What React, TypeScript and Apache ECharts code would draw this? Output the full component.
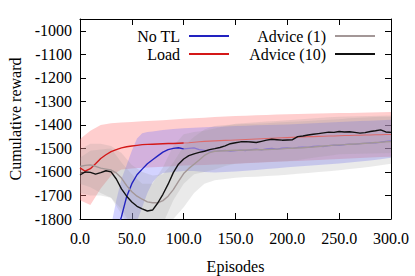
import React, { useEffect, useRef } from "react";
import * as echarts from "echarts";

// ---------- data ----------
const episodes5 = [0,5,10,15,20,25,30,35,40,45,50,55,60,65,70,75,80,85,90,95,100,105,110,115,120,125,130,135,140,145,150,155,160,165,170,175,180,185,190,195,200,205,210,215,220,225,230,235,240,245,250,255,260,265,270,275,280,285,290,295,300];

const loadMean = [-1583,-1597,-1586,-1565,-1543,-1527,-1514,-1505,-1498,-1493,-1490,-1487,-1484,-1483,-1482,-1481,-1480,-1479,-1479,-1478,-1477,-1476,-1474,-1472,-1470,-1469,-1468,-1467,-1466,-1465,-1464,-1463,-1462,-1461,-1460,-1459,-1458,-1457,-1456,-1455,-1454,-1453,-1452,-1451,-1450,-1450,-1449,-1448,-1447,-1447,-1446,-1445,-1445,-1444,-1444,-1443,-1443,-1442,-1442,-1441,-1441];

const advice1Mean = [-1577,-1572,-1570,-1576,-1584,-1588,-1592,-1604,-1626,-1658,-1684,-1703,-1716,-1727,-1731,-1731,-1722,-1703,-1675,-1640,-1607,-1585,-1567,-1549,-1530,-1518,-1512,-1511,-1510,-1509,-1508,-1508,-1507,-1507,-1506,-1506,-1505,-1504,-1503,-1502,-1500,-1499,-1498,-1497,-1495,-1494,-1492,-1490,-1488,-1486,-1485,-1484,-1482,-1481,-1480,-1478,-1477,-1475,-1474,-1472,-1471];

const advice10Mean = [-1613,-1600,-1602,-1609,-1603,-1595,-1600,-1630,-1672,-1703,-1728,-1746,-1757,-1766,-1762,-1732,-1695,-1652,-1603,-1567,-1545,-1531,-1523,-1517,-1512,-1505,-1501,-1496,-1489,-1480,-1476,-1472,-1471,-1473,-1475,-1470,-1465,-1461,-1463,-1465,-1464,-1463,-1450,-1447,-1443,-1440,-1437,-1434,-1431,-1432,-1428,-1430,-1429,-1432,-1435,-1433,-1428,-1425,-1421,-1430,-1432];

const noTlEpisodes = [30,35,40,45,50,55,60,65,70,75,80,85,90,95,100,105,110,115,120,125,130,135,140,145,150,155,160,165,170,175,180,185,190,195,200,205,210,215,220,225,230,235,240,245,250,255,260,265,270,275,280,285,290,295,300];
const noTlMean = [-1910,-1860,-1790,-1705,-1650,-1612,-1588,-1565,-1548,-1532,-1516,-1505,-1500,-1497,-1502,-1500,-1498,-1505,-1508,-1511,-1513,-1510,-1508,-1512,-1510,-1507,-1509,-1505,-1503,-1506,-1502,-1500,-1503,-1499,-1498,-1500,-1496,-1494,-1495,-1491,-1490,-1492,-1488,-1486,-1487,-1484,-1482,-1483,-1480,-1478,-1476,-1477,-1473,-1470,-1468];

// shaded bands (lower / upper edges)
const episodes10 = [0,10,20,30,40,50,60,70,80,90,100,110,120,130,140,150,160,170,180,190,200,210,220,230,240,250,260,270,280,290,300];
const loadLo = [-1720,-1740,-1670,-1615,-1590,-1585,-1582,-1580,-1578,-1576,-1573,-1572,-1570,-1568,-1567,-1565,-1563,-1561,-1559,-1557,-1555,-1553,-1551,-1549,-1547,-1545,-1543,-1541,-1539,-1537,-1535];
const loadHi = [-1460,-1425,-1400,-1393,-1390,-1388,-1385,-1382,-1380,-1377,-1374,-1372,-1370,-1367,-1364,-1362,-1361,-1359,-1358,-1356,-1355,-1354,-1353,-1352,-1351,-1350,-1349,-1348,-1347,-1346,-1345];
const advice1Lo = [-1650,-1665,-1690,-1710,-1760,-1830,-1860,-1860,-1850,-1800,-1750,-1690,-1650,-1635,-1630,-1625,-1622,-1620,-1617,-1615,-1612,-1608,-1605,-1600,-1597,-1593,-1588,-1583,-1578,-1572,-1565];
const advice1Hi = [-1505,-1480,-1480,-1490,-1520,-1570,-1600,-1615,-1610,-1560,-1490,-1450,-1420,-1405,-1400,-1398,-1396,-1395,-1393,-1390,-1388,-1386,-1384,-1380,-1378,-1376,-1372,-1370,-1368,-1365,-1365];
const advice10Lo = [-1690,-1700,-1700,-1710,-1780,-1850,-1870,-1880,-1820,-1720,-1650,-1610,-1600,-1590,-1575,-1565,-1562,-1560,-1558,-1556,-1555,-1549,-1543,-1537,-1531,-1525,-1524,-1523,-1522,-1521,-1520];
const advice10Hi = [-1540,-1510,-1505,-1500,-1560,-1610,-1650,-1650,-1580,-1490,-1440,-1430,-1425,-1415,-1405,-1395,-1392,-1389,-1386,-1383,-1380,-1377,-1374,-1371,-1368,-1365,-1364,-1363,-1362,-1361,-1360];
const noTlBandEpisodes = [30,35,40,45,50,55,60,65,70,75,80,90,100,110,120,130,140,150,160,170,180,190,200,210,220,230,240,250,260,270,280,290,300];
const noTlLo = [-1990,-1960,-1940,-1910,-1870,-1810,-1750,-1690,-1645,-1618,-1605,-1600,-1596,-1596,-1600,-1602,-1600,-1598,-1595,-1592,-1588,-1584,-1580,-1577,-1574,-1570,-1567,-1564,-1560,-1556,-1551,-1546,-1540];
const noTlHi = [-1830,-1720,-1630,-1570,-1510,-1458,-1436,-1430,-1428,-1425,-1422,-1418,-1414,-1412,-1410,-1408,-1407,-1405,-1404,-1402,-1400,-1399,-1398,-1396,-1394,-1392,-1390,-1388,-1386,-1384,-1382,-1380,-1378];

// axis tick labels and titles
const xTicks = [0, 50, 100, 150, 200, 250, 300];
const yTicks = [-1800, -1700, -1600, -1500, -1400, -1300, -1200, -1100, -1000];
const xTitle = "Episodes";
const yTitle = "Cumulative reward";

const FONT = "serif";
const GFONT = "Liberation Serif";

const pairs = (xs: number[], ys: number[]) => xs.map((x, i) => [x, ys[i]]);

// a shaded band drawn as one polygon, positioned through the chart's own scales
function band(name: string, xs: number[], lo: number[], hi: number[], color: string) {
  return {
    type: "custom", name, silent: true, z: 1, clip: true,
    data: xs.map((x, i) => [x, lo[i], hi[i]]),
    encode: { x: 0, y: [1, 2] },
    renderItem: (params: any, api: any) => {
      if (params.dataIndex !== 0) return null;
      const top = xs.map((x, i) => api.coord([x, hi[i]]));
      const bottom = xs.map((x, i) => api.coord([x, lo[i]])).reverse();
      const cs = params.coordSys;
      return {
        type: "polygon",
        shape: { points: top.concat(bottom) },
        style: { fill: color, stroke: "none" },
        clipPath: { type: "rect", shape: { x: cs.x, y: cs.y, width: cs.width, height: cs.height } },
      };
    },
  };
}

function splitAt(xs: number[], ys: number[], cut: number, before: boolean) {
  const out: number[][] = [];
  xs.forEach((x, i) => {
    if (before ? x <= cut : x >= cut) out.push([x, ys[i]]);
  });
  return out;
}

export default function App() {
  const ref = useRef<HTMLDivElement>(null);
  useEffect(() => {
    document.body.style.margin = "0";
    const chart = echarts.init(ref.current!, null, { renderer: "svg" });
    const axisLine = { show: true, onZero: false, lineStyle: { color: "#000", width: 1 } };
    const tick = { inside: true, length: 6, lineStyle: { color: "#000" } };
    const option: any = {
      animation: false,
      grid: { left: 80, right: 24, top: 19, bottom: 57 },
      xAxis: [
        { type: "value", min: 0, max: 300, interval: 50, position: "bottom",
          axisLine, splitLine: { show: false }, axisTick: tick, axisLabel: { show: false } },
        { type: "value", min: 0, max: 300, interval: 50, position: "top",
          axisLine, splitLine: { show: false }, axisTick: tick, axisLabel: { show: false } },
      ],
      yAxis: [
        { type: "value", min: -1800, max: -950, interval: 100, position: "left",
          axisLine, splitLine: { show: false }, axisTick: tick, axisLabel: { show: false } },
        { type: "value", min: -1800, max: -950, interval: 100, position: "right",
          axisLine, splitLine: { show: false }, axisTick: tick, axisLabel: { show: false } },
      ],
      legend: [
        {
          data: ["No TL", "Load"], orient: "vertical", align: "right", icon: "rect",
          right: 186, top: 27, itemWidth: 40, itemHeight: 2, itemGap: 0, padding: 0,
          textStyle: { fontFamily: FONT, fontSize: 16, color: "#000", lineHeight: 18, padding: [0, 4, 0, 0] },
        },
        {
          data: ["Advice (1)", "Advice (10)"], orient: "vertical", align: "right", icon: "rect",
          right: 40, top: 27, itemWidth: 40, itemHeight: 2, itemGap: 0, padding: 0,
          textStyle: { fontFamily: FONT, fontSize: 16, color: "#000", lineHeight: 18, padding: [0, 4, 0, 0] },
        },
      ],
      series: [
        band("Load band", episodes10, loadLo, loadHi, "rgba(255,120,120,0.36)"),
        band("No TL band", noTlBandEpisodes, noTlLo, noTlHi, "rgba(110,110,255,0.30)"),
        band("Advice (1) band", episodes10, advice1Lo, advice1Hi, "rgba(150,150,150,0.20)"),
        band("Advice (10) band", episodes10, advice10Lo, advice10Hi, "rgba(150,150,150,0.20)"),
        {
          type: "line", name: "No TL cont", data: splitAt(noTlEpisodes, noTlMean, 100, false),
          symbol: "none", lineStyle: { color: "#8a78d0", width: 1.2 }, z: 3, silent: true,
        },
        {
          type: "line", name: "Load cont", data: splitAt(episodes5, loadMean, 100, false),
          symbol: "none", lineStyle: { color: "#dc6a6a", width: 1.1 }, z: 3, silent: true,
        },
        {
          type: "line", name: "No TL", data: splitAt(noTlEpisodes, noTlMean, 100, true),
          symbol: "none", lineStyle: { color: "#2222c0", width: 1.4 }, itemStyle: { color: "#2222c0" }, z: 4,
        },
        {
          type: "line", name: "Load", data: splitAt(episodes5, loadMean, 100, true),
          symbol: "none", lineStyle: { color: "#d41818", width: 1.4 }, itemStyle: { color: "#d41818" }, z: 4,
        },
        {
          type: "line", name: "Advice (1)", data: pairs(episodes5, advice1Mean),
          symbol: "none", lineStyle: { color: "#a39797", width: 1.4 }, itemStyle: { color: "#a39797" }, z: 4,
        },
        {
          type: "line", name: "Advice (10)", data: pairs(episodes5, advice10Mean),
          symbol: "none", lineStyle: { color: "#111", width: 1.4 }, itemStyle: { color: "#111" }, z: 5,
        },
      ],
    };
    chart.setOption(option);

    // tick labels and axis titles, placed through the chart's own axis scales
    const finder = { xAxisIndex: 0, yAxisIndex: 0 };
    const px = (x: number, y: number) => chart.convertToPixel(finder as any, [x, y]) as number[];
    const base = { fontFamily: GFONT, fontSize: 16, fill: "#000" };
    const graphic: any[] = [];
    xTicks.forEach((v) => {
      const [x, y] = px(v, -1800);
      graphic.push({ type: "text", x, y: y + 11, silent: true,
        style: { ...base, text: v.toFixed(1), align: "center", verticalAlign: "top" } });
    });
    yTicks.forEach((v) => {
      const [x, y] = px(0, v);
      graphic.push({ type: "text", x: x - 8, y, silent: true,
        style: { ...base, text: String(v), align: "right", verticalAlign: "middle" } });
    });
    const [cx, by] = px(150, -1800);
    graphic.push({ type: "text", x: cx, y: by + 47, silent: true,
      style: { ...base, text: xTitle, align: "center", verticalAlign: "middle" } });
    const [lx, my] = px(0, -1375);
    graphic.push({ type: "text", x: lx - 65, y: my, rotation: Math.PI / 2, silent: true,
      style: { ...base, text: yTitle, align: "center", verticalAlign: "middle" } });
    chart.setOption({ graphic });

    return () => chart.dispose();
  }, []);
  return <div ref={ref} style={{ width: 415, height: 276 }} />;
}
